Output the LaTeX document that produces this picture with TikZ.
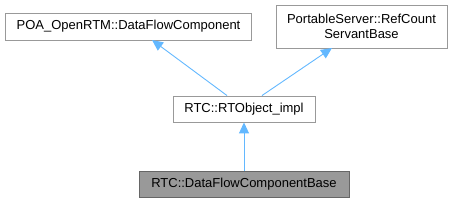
\documentclass[tikz,border=0pt]{standalone}
\usepackage{fontspec}
\setmainfont{Liberation Sans}
\usetikzlibrary{arrows.meta}
\definecolor{edge}{HTML}{63B8FF}
\definecolor{boxline}{HTML}{999999}
\definecolor{curfill}{HTML}{999999}
\definecolor{curline}{HTML}{666666}
\tikzset{
  cls/.style={draw=boxline, fill=white, line width=0.9pt, inner sep=0pt, font=\fontsize{13}{15.5}\selectfont, align=center},
  cur/.style={cls, draw=curline, fill=curfill},
  inh/.style={draw=edge, line width=0.9pt, {Triangle[length=11pt,width=10pt]}-}
}
\begin{document}
\begin{tikzpicture}[x=1pt,y=-1pt]
\useasboundingbox (0,0) rectangle (453,203);
\node[cls, minimum width=246pt, minimum height=27pt] (poa) at (128.5,26.5) {POA\_OpenRTM::DataFlowComponent};
\node[cls, minimum width=171pt, minimum height=43pt] (ps) at (361.5,26.5) {PortableServer::RefCount\\ServantBase};
\node[cls, minimum width=142pt, minimum height=26pt] (rto) at (244,109) {RTC::RTObject\_impl};
\node[cur, minimum width=210pt, minimum height=26pt] (dfc) at (244,184) {RTC::DataFlowComponentBase};
\coordinate (a1) at (152,40);
\coordinate (a2) at (332,48);
\draw[inh] (a1) -- (rto.north -| 227,0);
\draw[inh] (a2) -- (rto.north -| 262,0);
\draw[inh] (rto.south) -- (dfc.north);
\end{tikzpicture}
\end{document}
